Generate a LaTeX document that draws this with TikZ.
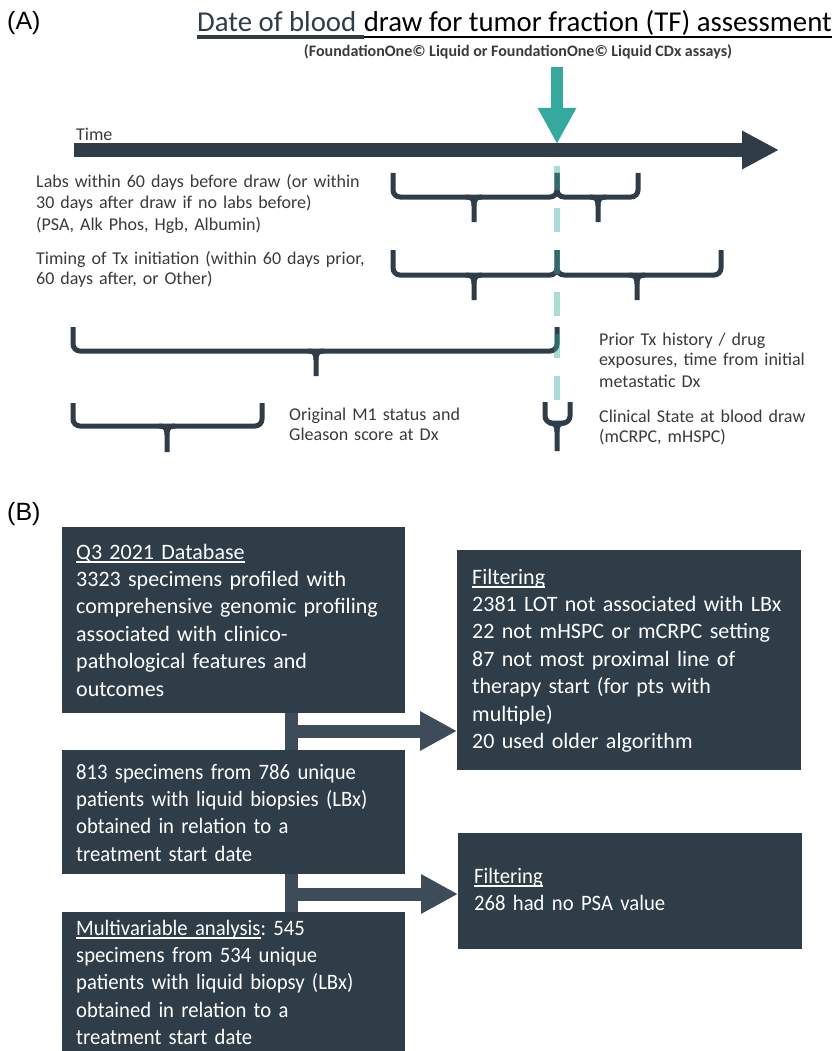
\documentclass[tikz,border=0pt]{standalone}
\usepackage{fontspec}
\setmainfont{Carlito}
\newfontfamily\arialf{Liberation Sans}
\newfontfamily\condf[FakeStretch=0.94]{Carlito}
\usetikzlibrary{arrows.meta,calc}
\definecolor{slate}{HTML}{2F3D49}
\definecolor{conncol}{HTML}{3E4C59}
\definecolor{tealc}{HTML}{36A99F}
\definecolor{txtgray}{HTML}{3A3A3A}
\newcommand\ulx[1]{\setbox0\hbox{#1}\rlap{\rule[-3.5pt]{\wd0}{1.6pt}}\box0}
\tikzset{
  brc/.style={draw=slate, line width=5},
  box/.style={fill=slate, draw=none, anchor=north west, inner sep=0},
  btxt/.style={anchor=base west, inner sep=0, text width=340, align=left, text=white, font=\frenchspacing\fontsize{22}{27.4}\selectfont},
  ctxt/.style={btxt, font=\frenchspacing\condf\fontsize{22}{27.4}\selectfont},
  ttxt/.style={anchor=base west, inner sep=0, text width=400, align=left, text=txtgray, font=\fontsize{18}{20.5}\selectfont},
  barconn/.style={draw=conncol, line width=13},
  fatarrow/.style={draw=conncol, fill=conncol, line width=13, -{Triangle[length=37pt,width=37pt]}},
}
\newcommand\tlbrace[6]{%
  \draw[brc,rounded corners=7] (#1,#4) -- (#1,#5) -- (#3,#5) -- (#3,#4);
  \draw[brc] (#2-8,#5) .. controls (#2-2,#5) and (#2,#5+2) .. (#2,#5+9) -- (#2,#6);
  \draw[brc] (#2+8,#5) .. controls (#2+2,#5) and (#2,#5+2) .. (#2,#5+9);
}
\begin{document}
\begin{tikzpicture}[x=1pt,y=-1pt]
\useasboundingbox (0,0) rectangle (835,1051);
% ---------- Part A ----------
\node[font=\arialf\fontsize{25}{29}\selectfont, anchor=west, inner sep=0] (labA) at (7,23) {(A)};
\node[anchor=base west, inner sep=0, font=\fontsize{28.8}{32}\selectfont, text=slate] (ttl1) at (197,32) {Date of blood};
\node[anchor=base west, inner sep=0, font=\fontsize{28.8}{32}\selectfont, text=black] (ttl2) at ([xshift=7pt]ttl1.base east) {draw for tumor fraction (TF) assessment};
\draw[slate, line width=3.5] ([yshift=-5pt]ttl1.base west) -- ([yshift=-5pt]ttl2.base west);
\draw[black, line width=2.5] ([yshift=-5pt]ttl2.base west) -- ([yshift=-5pt]ttl2.base east);
\node[font=\bfseries\fontsize{16}{18}\selectfont, text=txtgray, inner sep=0] (sub) at (518,52) {(FoundationOne© Liquid or FoundationOne© Liquid CDx assays)};

% time axis
\coordinate (tA) at (74,150);
\coordinate (tB) at (779,150);
\draw[slate, line width=14, -{Triangle[length=37pt,width=36pt]}] (tA) -- (tB);
\node[ttxt] (tlab) at (76,141) {Time};
% blood draw arrow
\coordinate (dA) at (557,67);
\coordinate (dB) at (557,144);
\draw[tealc, line width=12, -{Triangle[length=36pt,width=36pt]}] (dA) -- (dB);

% braces
\tlbrace{393}{474}{557}{173}{197}{222}
\tlbrace{557}{598}{638}{173}{197}{222}
\tlbrace{393}{474}{557}{250}{275}{300}
\tlbrace{557}{637}{721}{250}{275}{300}
\tlbrace{73}{316}{557}{327}{351}{376}
\tlbrace{73}{167}{262}{403}{426}{452}
\tlbrace{545}{557}{570}{402}{423}{451}

% dashed line
\coordinate (dl0) at (557,166);
\coordinate (dl1) at (557,407);
\draw[tealc, opacity=0.42, line width=6, dash pattern=on 24pt off 18pt] (dl0) -- (dl1);

% labels A
\node[ttxt] (labs) at (36,188) {Labs within 60 days before draw (or within\\30 days after draw if no labs before)\\[1.5pt](PSA, Alk Phos, Hgb, Albumin)};
\node[ttxt] (timing) at (36,264) {Timing of Tx initiation (within 60 days prior,\\60 days after, or Other)};
\node[ttxt, text width=230] (prior) at (599,345) {Prior Tx history / drug\\exposures, time from initial\\[1pt]metastatic Dx};
\node[ttxt, text width=230] (orig) at (289,420) {Original M1 status and\\Gleason score at Dx};
\node[ttxt, text width=230] (clin) at (599,422) {Clinical State at blood draw\\(mCRPC, mHSPC)};

% ---------- Part B ----------
\node[font=\arialf\fontsize{25}{29}\selectfont, anchor=west, inner sep=0] (labB) at (7,514) {(B)};
\node[box, minimum width=343, minimum height=186] (db) at (62,527) {};
\node[box, minimum width=343, minimum height=124] (lbx) at (62,750) {};
\node[box, minimum width=343, minimum height=140] (mva) at (62,912) {};
\node[box, minimum width=344, minimum height=220] (f1) at (457,550) {};
\node[box, minimum width=344, minimum height=116] (f2) at (458,833) {};

\coordinate (j1) at (291.5,731);
\coordinate (j2) at (291.5,894);
\draw[barconn] (j1 |- db.south) -- (j1 |- lbx.north);
\draw[fatarrow] (j1) -- (j1 -| f1.west);
\draw[barconn] (j2 |- lbx.south) -- (j2 |- mva.north);
\draw[fatarrow] (j2) -- (j2 -| f2.west);

\node[btxt] (dbt) at (76,559) {\ulx{Q3 2021 Database}\\3323 specimens profiled with\\comprehensive genomic profiling\\associated with clinico-\\pathological features and\\outcomes};
\node[btxt] (f1t) at (472,584) {\ulx{Filtering}\\2381 LOT not associated with LBx\\22 not mHSPC or mCRPC setting\\87 not most proximal line of\\therapy start (for pts with\\multiple)\\20 used older algorithm};
\node[ctxt] (lbxt) at (76,779) {813 specimens from 786 unique\\patients with liquid biopsies (LBx)\\obtained in relation to a\\treatment start date};
\node[ctxt] (f2t) at (474,883) {\ulx{Filtering}\\268 had no PSA value};
\node[ctxt] (mvat) at (76,935) {\ulx{Multivariable analysis}: 545\\specimens from 534 unique\\patients with liquid biopsy (LBx)\\obtained in relation to a\\treatment start date};
\end{tikzpicture}
\end{document}
